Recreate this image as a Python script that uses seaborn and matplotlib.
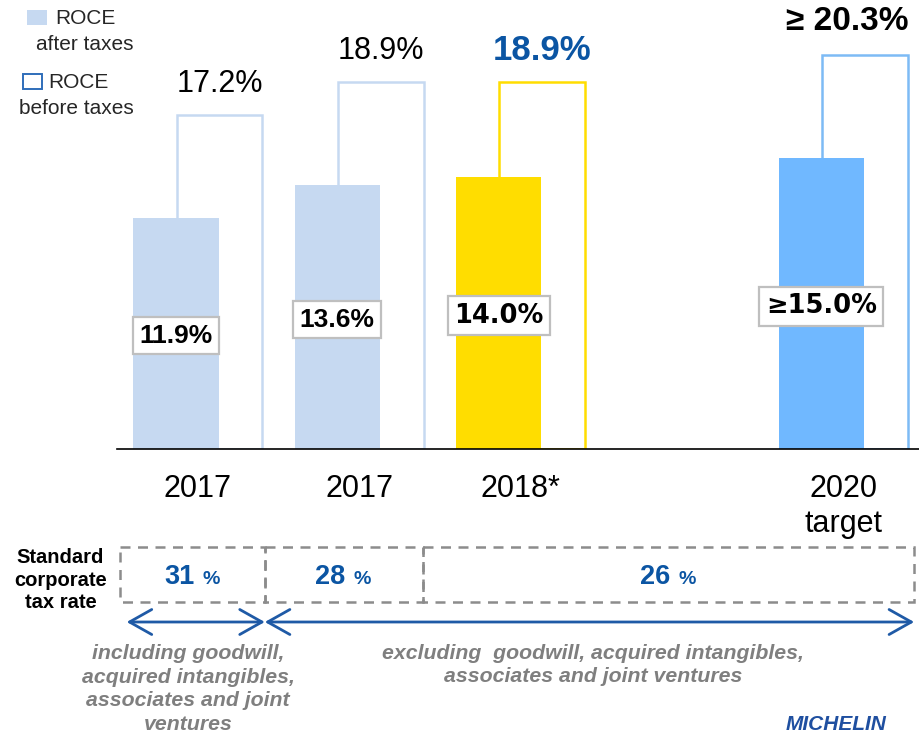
import pandas as pd
import matplotlib.pyplot as plt
import seaborn as sns
from matplotlib.patches import Rectangle

# Data
categories = ["2017", "2017", "2018*", "2020\ntarget"]
roce_after = [11.9, 13.6, 14.0, 15.0]
roce_before = [17.2, 18.9, 18.9, 20.3]
after_labels = ["11.9%", "13.6%", "14.0%", "≥15.0%"]
before_labels = ["17.2%", "18.9%", "18.9%", "≥ 20.3%"]
tax_rates = ["31", "28", "26"]
scope_notes = ["including goodwill,\nacquired intangibles,\nassociates and joint\nventures",
               "excluding  goodwill, acquired intangibles,\nassociates and joint ventures"]

# Layout / style
slots = [0, 1, 2, 4]          # one empty slot before the 2020 target
fill_cols = ["#C6D9F1", "#C6D9F1", "#FFDD00", "#70B8FF"]
edge_cols = ["#C6D9F1", "#C6D9F1", "#FFDD00", "#7DBBF5"]
blue = "#0B55A3"
grey_txt = "#7F7F7F"

sns.set_theme(style="white")
plt.rcParams['font.family'] = ['Liberation Sans', 'DejaVu Sans']

W, H = 919, 736
fig = plt.figure(figsize=(W / 100, H / 100), dpi=100)


def fx(x, y):
    return x / W, 1 - y / H


ax = fig.add_axes([117 / W, (H - 449) / H, (W - 117) / W, 449 / H])

df = pd.DataFrame({"slot": slots, "label": categories,
                   "after": roce_after, "before": roce_before})
df["key"] = [f"k{i}" for i in range(len(df))]
df["x_after"] = df["slot"] - 0.135
df["x_before"] = df["slot"] + 0.135

# outline bars (before taxes) behind, filled bars (after taxes) in front
sns.barplot(data=df, x="x_before", y="before", hue="key", palette=edge_cols,
            fill=False, native_scale=True, width=0.53, dodge=False, legend=False,
            linewidth=1.8, saturation=1, errorbar=None, ax=ax)
sns.barplot(data=df, x="x_after", y="after", hue="key", palette=fill_cols,
            native_scale=True, width=0.53, dodge=False, legend=False,
            linewidth=0, saturation=1, errorbar=None, ax=ax)

ax.set_xlim(-0.5, 4.47)
ax.set_ylim(0, 23.14)
ax.set_xticks(slots, categories)
ax.set_yticks([])
ax.set_xlabel("")
ax.set_ylabel("")
ax.tick_params(axis="x", length=0, pad=18, labelsize=22, labelcolor="black")
for s in ["top", "right", "left"]:
    ax.spines[s].set_visible(False)
ax.spines["bottom"].set_color("black")
ax.spines["bottom"].set_linewidth(1.2)

# labels above the outline bars
for i, (v, lab) in enumerate(zip(roce_before, before_labels)):
    xb = df["x_before"][i]
    if i == 2:
        ax.text(xb, v + 1.65, lab, ha="center", va="center", fontsize=25,
                fontweight="bold", color=blue)
    elif i == 3:
        ax.text(xb - 0.11, v + 1.75, lab, ha="center", va="center", fontsize=24,
                fontweight="bold", color="black")
    else:
        ax.text(xb, v + 1.6, lab, ha="center", va="center", fontsize=22,
                color="black")

# boxed labels inside the filled bars
for i, (v, lab) in enumerate(zip(roce_after, after_labels)):
    xa = df["x_after"][i]
    fam = ['DejaVu Sans'] if i >= 2 else ['Liberation Sans', 'DejaVu Sans']
    size = 18.5 if i >= 2 else 19
    ax.text(xa, v * 0.49, lab, ha="center", va="center", fontsize=size,
            fontweight="bold", color="black", family=fam,
            bbox=dict(boxstyle="square,pad=0.25", fc="white", ec="#BFBFBF", lw=1.6))

# legend (top left)
fig.add_artist(Rectangle(fx(27, 25), 20 / W, 15 / H, transform=fig.transFigure,
                         fc="#C6D9F1", ec="none"))
fig.text(*fx(55, 18), "ROCE", fontsize=15, ha="left", va="center")
fig.text(*fx(85, 45), "after taxes", fontsize=15, ha="center", va="center")
fig.add_artist(Rectangle(fx(23, 89), 19 / W, 15 / H, transform=fig.transFigure,
                         fc="none", ec="#2F6EBA", lw=1.4))
fig.text(*fx(48, 82), "ROCE", fontsize=15, ha="left", va="center")
fig.text(*fx(76, 108), "before taxes", fontsize=15, ha="center", va="center")

# bottom panel: tax rates and scope arrows (shares the x scale of the bars)
bax = fig.add_axes([117 / W, 0, (W - 117) / W, 220 / H])
bax.set_xlim(ax.get_xlim())
bax.set_ylim(736, 516)
bax.axis("off")

edges = [-0.48, 0.416, 1.398, 4.44]
for j, rate in enumerate(tax_rates):
    x0, x1 = edges[j], edges[j + 1]
    bax.add_patch(Rectangle((x0, 547), x1 - x0, 55, fc="none", ec="#8C8C8C",
                            lw=1.8, ls=(0, (4, 3)), clip_on=False))
    xc = (x0 + x1) / 2
    bax.text(xc + 0.01, 577, rate, ha="right", va="center", fontsize=19.5,
             fontweight="bold", color=blue)
    bax.text(xc + 0.06, 580, "%", ha="left", va="center", fontsize=14,
             fontweight="bold", color=blue)

bax.text(-0.85, 580, "Standard\ncorporate\ntax rate", ha="center", va="center",
         fontsize=14.5, fontweight="bold", color="black", linespacing=1.25)

arrow_kw = dict(arrowstyle="<->,head_length=0.8,head_width=0.45", color="#1F5AA6",
                lw=2, mutation_scale=20, shrinkA=0, shrinkB=0)
bax.annotate("", xy=(edges[0] + 0.04, 622), xytext=(edges[1], 622),
             arrowprops=arrow_kw, annotation_clip=False)
bax.annotate("", xy=(edges[1], 622), xytext=(edges[3], 622),
             arrowprops=arrow_kw, annotation_clip=False)

bax.text(-0.06, 689, scope_notes[0], ha="center", va="center", fontsize=15.3,
         fontweight="bold", style="italic", color=grey_txt, linespacing=1.33)
bax.text(2.45, 665, scope_notes[1], ha="center", va="center", fontsize=15.3,
         fontweight="bold", style="italic", color=grey_txt, linespacing=1.33)

# company wordmark at the bottom right
fig.text(*fx(786, 734), "MICHELIN", fontsize=15, fontweight="bold", style="italic",
         color="#1F4FA0", ha="left", va="bottom")

fig.savefig("out.png", dpi=100)
